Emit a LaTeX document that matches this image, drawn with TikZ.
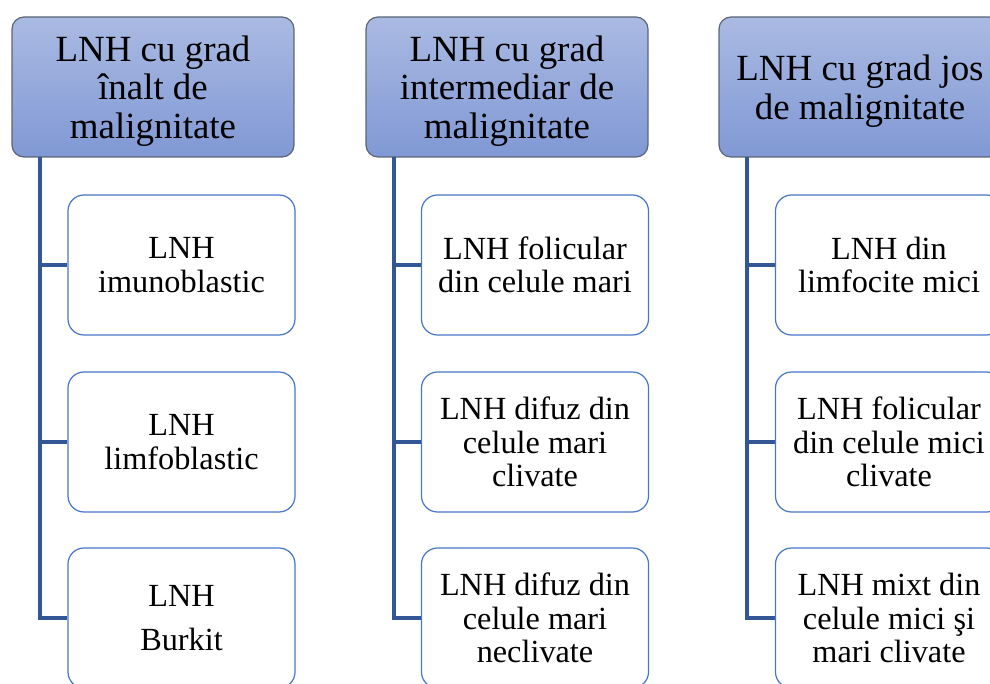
\documentclass[tikz,border=0pt]{standalone}
\usepackage{fontspec}
\setmainfont{Liberation Serif}
\definecolor{hdtop}{RGB}{170,186,226}
\definecolor{hdbot}{RGB}{128,152,212}
\definecolor{hdline}{RGB}{92,100,118}
\definecolor{boxline}{RGB}{72,118,200}
\definecolor{connline}{RGB}{50,86,150}
\begin{document}
\begin{tikzpicture}[x=0.75pt,y=-0.75pt,
  header/.style={draw=hdline, line width=0.9pt, rounded corners=9pt,
    top color=hdtop, bottom color=hdbot,
    minimum width=211.5pt, minimum height=105pt, inner sep=0pt},
  htext/.style={inner sep=0pt, align=center, font=\fontsize{27.7}{29}\selectfont},
  leaf/.style={draw=boxline, line width=0.9pt, rounded corners=12pt, fill=white,
    minimum width=170.25pt, minimum height=105pt, inner sep=0pt,
    align=center, font=\fontsize{24.2}{25.2}\selectfont},
  conn/.style={draw=connline, line width=2.7pt}]
\useasboundingbox (0,0) rectangle (990,684);
\begin{scope}
\clip (0,0) rectangle (990,684);

% column headers and their captions
\node[header] (h1) at (153,87) {};
\node[header] (h2) at (507,87) {};
\node[header] (h3) at (860,87) {};
\node[htext] (h1t) at (153,91) {LNH cu grad\\înalt de\\malignitate};
\node[htext] (h2t) at (507,91) {LNH cu grad\\intermediar de\\malignitate};
\node[htext] (h3t) at (860,91) {LNH cu grad jos\\de malignitate};

% trunk start points below each header
\coordinate (t1) at (40,157);
\coordinate (t2) at (394,157);
\coordinate (t3) at (747,157);

% leaf boxes
\node[leaf] (c11) at (181.5,265) {LNH\\imunoblastic};
\node[leaf] (c12) at (181.5,442) {LNH\\limfoblastic};
\node[leaf] (c13) at (181.5,618) {LNH\\[8pt]Burkit};
\node[leaf] (c21) at (535,265) {LNH folicular\\din celule mari};
\node[leaf] (c22) at (535,442) {LNH difuz din\\celule mari\\clivate};
\node[leaf] (c23) at (535,618) {LNH difuz din\\celule mari\\neclivate};
\node[leaf] (c31) at (889,265) {LNH din\\limfocite mici};
\node[leaf] (c32) at (889,442) {LNH folicular\\din celule mici\\clivate};
\node[leaf] (c33) at (889,618) {LNH mixt din\\celule mici şi\\mari clivate};

% elbow connectors from each trunk to its leaves
\foreach \c in {1,2,3}{
  \foreach \r in {1,2,3}{
    \draw[conn] (t\c) |- (c\c\r.west);
  }
}
\end{scope}
\end{tikzpicture}
\end{document}
